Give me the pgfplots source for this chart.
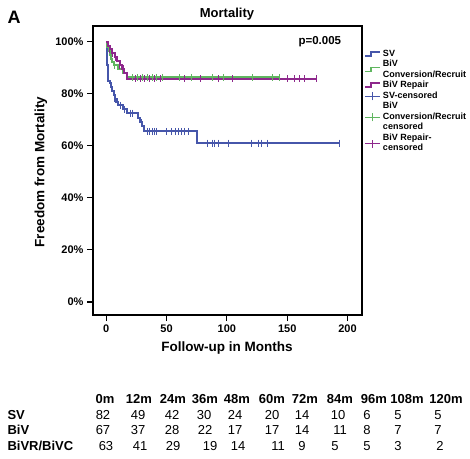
\documentclass[border=0pt]{standalone}
\usepackage{fontspec}
\setmainfont{Liberation Sans}
\usepackage{pgfplots}
\pgfplotsset{compat=1.18}
\definecolor{svblue}{RGB}{70,86,170}
\definecolor{bivgreen}{RGB}{96,182,96}
\definecolor{bivpurple}{RGB}{142,40,140}
\newcommand{\lgentry}[1]{\begin{tabular}{@{}l@{}}#1\end{tabular}}
\begin{document}
\begin{tikzpicture}
\useasboundingbox (0pt,0pt) rectangle (470pt,-458pt);
\begin{axis}[
  at={(93pt,-315pt)}, anchor=south west,
  scale only axis, width=269pt, height=289pt,
  xmin=-11, xmax=212, ymin=-5, ymax=106,
  xtick={0,50,100,150,200}, ytick={0,20,40,60,80,100},
  yticklabel={\pgfmathprintnumber{\tick}\%},
  tick pos=left, tick align=outside, major tick length=6pt,
  tick style={black, line width=1.1pt},
  axis line style={line width=2.2pt},
  /pgf/number format/assume math mode=true,
  ticklabel style={font=\bfseries\fontsize{11}{13}\selectfont},
  legend cell align=left,
  legend style={draw=none, fill=none, at={(1.0074,0.921)}, anchor=north west,
    inner sep=0pt, row sep=0pt, column sep=2pt,
    font=\bfseries\fontsize{9}{10.5}\selectfont,
    nodes={inner sep=0pt, text depth=}},
]
\addplot[const plot, svblue, line width=2pt,
  legend image code/.code={\draw[line width=1.8pt] (0pt,-1.5pt) -- (6pt,-1.5pt) -- (6pt,2.5pt) -- (15pt,2.5pt);}]
  coordinates {(0,100) (0.3,97) (0.6,94) (0.9,91) (1.2,88) (1.5,85) (3,84) (4,82.5) (5,81) (6,79.5) (7,78) (8,77) (10,75.5) (14,74) (17,72.5) (26,70.5) (28,69) (30,67.5) (31.5,65.5) (75,61) (193,61)};
\addplot[const plot, bivgreen, line width=2pt,
  legend image code/.code={\draw[line width=1.8pt] (0pt,-1.5pt) -- (6pt,-1.5pt) -- (6pt,2.5pt) -- (15pt,2.5pt);}]
  coordinates {(0,100) (1,98) (2,96.5) (3,95) (4,93.5) (5,92) (6,91) (10,89.5) (14,88) (17,86.3) (144,86.3)};
\addplot[const plot, bivpurple, line width=2pt,
  legend image code/.code={\draw[line width=1.8pt] (0pt,-1.5pt) -- (6pt,-1.5pt) -- (6pt,2.5pt) -- (15pt,2.5pt);}]
  coordinates {(0,100) (1.5,98.5) (3,97) (5,95.5) (7,94) (9,92.5) (11,91) (13,89.5) (15,88) (17,85.8) (174,85.8)};
\addplot[only marks, mark=|, mark size=3.5pt, svblue, mark options={line width=1pt},
  legend image code/.code={\draw[svblue, line width=1pt] (0pt,0pt) -- (15pt,0pt); \draw[svblue, line width=1pt] (7.5pt,-4pt) -- (7.5pt,4pt);}]
  coordinates {(4,82.5) (7,78) (9,77) (12,75.5) (15,74) (20,72.5) (22,72.5) (29,69)
   (34,65.5) (36,65.5) (38,65.5) (40,65.5) (42,65.5) (50,65.5) (54,65.5) (57,65.5) (60,65.5) (62,65.5) (65,65.5) (68,65.5)
   (84,61) (88,61) (90,61) (93,61) (101,61) (120,61) (126,61) (129,61) (134,61) (193,61)};
\addplot[only marks, mark=|, mark size=3.5pt, bivgreen, mark options={line width=1pt},
  legend image code/.code={\draw[bivgreen, line width=1pt] (0pt,0pt) -- (15pt,0pt); \draw[bivgreen, line width=1pt] (7.5pt,-4pt) -- (7.5pt,4pt);}]
  coordinates {(7,91) (22,86.3) (26,86.3) (30,86.3) (34,86.3) (38,86.3) (42,86.3) (47,86.3) (61,86.3) (71,86.3) (88,86.3) (97,86.3) (121,86.3) (138,86.3) (144,86.3)};
\addplot[only marks, mark=|, mark size=3.5pt, bivpurple, mark options={line width=1pt},
  legend image code/.code={\draw[bivpurple, line width=1pt] (0pt,0pt) -- (15pt,0pt); \draw[bivpurple, line width=1pt] (7.5pt,-4pt) -- (7.5pt,4pt);}]
  coordinates {(3,97) (5,95.5) (8,94) (11,91) (14,89.5) (24,85.8) (28,85.8) (32,85.8) (36,85.8) (40,85.8) (45,85.8) (65,85.8) (78,85.8) (93,85.8) (105,85.8) (150,85.8) (156,85.8) (160,85.8) (164,85.8) (174,85.8)};
\legend{\lgentry{SV}, \lgentry{BiV\\Conversion/Recruit}, \lgentry{BiV Repair}, \lgentry{SV-censored}, \lgentry{BiV\\Conversion/Recruit\\censored}, \lgentry{BiV Repair-\\censored}}
\node[font=\bfseries\fontsize{11.5}{13}\selectfont] at (axis cs:177,100) {p=0.005};
\end{axis}
\node[font=\bfseries\fontsize{18}{20}\selectfont] at (14pt,-17pt) {A};
\node[font=\bfseries\fontsize{13}{15}\selectfont] at (227pt,-14pt) {Mortality};
\node[font=\bfseries\fontsize{13.5}{15}\selectfont, rotate=90] at (41pt,-172pt) {Freedom from Mortality};
\node[font=\bfseries\fontsize{13.5}{15}\selectfont] at (227pt,-348pt) {Follow-up in Months};
% risk table
\foreach \x/\t in {105/0m,139/12m,173/24m,205/36m,237/48m,272/60m,305/72m,340/84m,374/96m,407/108m,446/120m}
  \node[font=\bfseries\fontsize{13}{15}\selectfont] at (\x pt,-399pt) {\t};
\node[anchor=west, font=\bfseries\fontsize{13}{15}\selectfont] at (4pt,-415pt) {SV};
\node[anchor=west, font=\bfseries\fontsize{13}{15}\selectfont] at (4pt,-430pt) {BiV};
\node[anchor=west, font=\bfseries\fontsize{13}{15}\selectfont] at (4pt,-446pt) {BiVR/BiVC};
\foreach \x/\t in {103/82,138/49,172/42,204/30,235/24,272/20,302/14,338/10,367/6,398/5,438/5}
  \node[font=\fontsize{13}{15}\selectfont] at (\x pt,-415pt) {\t};
\foreach \x/\t in {103/67,138/37,172/28,205/22,235/17,272/17,302/14,340/11,367/8,398/7,438/7}
  \node[font=\fontsize{13}{15}\selectfont] at (\x pt,-430pt) {\t};
\foreach \x/\t in {106/63,140/41,173/29,210/19,238/14,278/11,302/9,335/5,367/5,398/3,440/2}
  \node[font=\fontsize{13}{15}\selectfont] at (\x pt,-446pt) {\t};
\end{tikzpicture}
\end{document}
